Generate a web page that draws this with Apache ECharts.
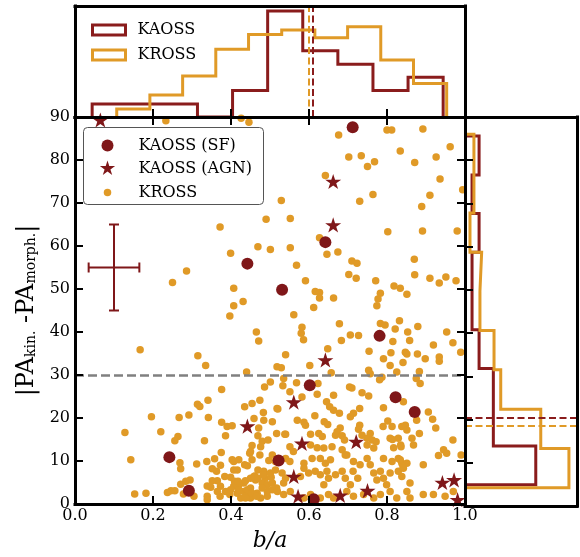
<!DOCTYPE html>
<html>
<head>
<meta charset="utf-8">
<script src="https://cdn.jsdelivr.net/npm/echarts@6/dist/echarts.min.js"></script>
<style>
  html, body { margin: 0; padding: 0; background: #fff; }
  #chart { width: 580px; height: 557px; }
</style>
</head>
<body>
<div id="chart"></div>
<script>
// ---------- data ----------
// KAOSS star-forming galaxies: [b/a, |PA_kin - PA_morph|]
const kaossSF = [
  [0.712, 87.6], [0.442, 55.9], [0.531, 49.8], [0.642, 60.9], [0.781, 39.1],
  [0.602, 27.6], [0.822, 24.8], [0.871, 21.4], [0.522, 10.1], [0.612, 1.1],
  [0.242, 10.9], [0.292, 3.1]
];
// KAOSS AGN hosts
const kaossAGN = [
  [0.065, 89.3], [0.662, 75.0], [0.662, 64.9], [0.642, 33.5], [0.561, 23.7],
  [0.442, 18.1], [0.582, 14.1], [0.721, 14.5], [0.561, 6.4], [0.572, 1.8],
  [0.680, 2.0], [0.750, 3.1], [0.942, 5.0], [0.972, 5.6], [0.981, 1.0]
];
// KROSS galaxies
const kross = [
  [0.233,89.1],[0.426,89.7],[0.446,88.8],
  [0.490,66.2],[0.372,64.4],[0.469,59.8],[0.501,59.2],[0.399,58.3],[0.286,54.2],[0.250,51.5],[0.407,50.2],[0.431,47.1],[0.407,46.1],
  [0.676,85.8],[0.800,87.0],[0.812,87.0],[0.892,87.2],[0.962,83.1],[0.702,80.7],[0.734,81.0],[0.768,79.6],[0.750,78.5],[0.834,82.1],
  [0.871,79.4],[0.926,80.7],[0.642,76.4],[0.936,75.6],[0.994,73.1],[0.529,70.6],[0.730,70.4],[0.764,72.0],[0.910,71.8],[0.889,69.2],
  [0.552,66.4],[0.627,61.9],[0.802,63.3],[0.891,63.5],[0.980,63.5],[0.552,59.6],[0.646,58.1],[0.674,58.6],[0.568,55.5],[0.710,56.5],
  [0.723,56.0],[0.870,56.9],[0.702,53.4],[0.721,52.5],[0.591,51.9],[0.771,51.9],[0.871,53.3],[0.910,52.5],[0.934,51.4],[0.951,52.8],
  [0.977,51.9],[0.818,50.7],[0.834,50.2],[0.851,48.8],[0.616,49.4],[0.627,49.2],[0.627,47.9],[0.663,47.9],[0.783,49.0],[0.777,47.7],
  [0.774,46.1],[0.612,45.7],
  [0.397,43.7],[0.465,40.0],[0.471,37.9],[0.167,35.9],[0.315,34.5],[0.335,32.2],[0.440,30.7],[0.486,27.2],[0.376,26.6],[0.474,24.1],
  [0.341,24.1],[0.314,23.2],[0.320,22.7],[0.454,23.4],[0.435,22.6],[0.483,21.3],[0.196,20.3],[0.267,20.1],[0.292,20.7],[0.342,20.1],
  [0.459,19.9],[0.484,19.5],[0.376,19.0],[0.403,18.2],[0.390,18.0],[0.471,17.7],[0.128,16.6],[0.220,16.8],[0.264,15.7],[0.256,14.7],
  [0.386,15.9],[0.332,14.7],[0.480,14.6],[0.476,13.3],[0.495,14.9],[0.454,13.6],[0.375,12.0],[0.448,11.8],[0.474,11.4],[0.143,10.3],
  [0.358,10.5],[0.338,9.9],[0.269,9.6],[0.271,8.2],[0.312,9.3],[0.407,9.9],[0.373,9.0],[0.435,9.1],[0.442,8.9],[0.454,10.3],
  [0.497,10.1],[0.352,8.2],[0.363,7.6],[0.407,7.9],[0.416,7.9],[0.461,6.5],[0.484,7.6],[0.488,6.0],[0.384,6.4],[0.399,6.2],
  [0.365,5.4],[0.352,5.4],[0.339,4.2],[0.271,4.6],[0.284,5.3],[0.295,5.6],[0.246,3.1],[0.237,2.7],[0.256,3.1],[0.278,2.3],
  [0.305,1.8],[0.153,2.3],[0.182,2.5],[0.339,1.0],[0.372,1.8],[0.386,2.9],[0.397,2.2],[0.416,2.5],[0.425,1.4],[0.433,2.9],
  [0.442,2.2],[0.450,1.4],[0.467,2.5],[0.476,1.4],[0.493,2.9],[0.450,3.7],[0.433,4.9],[0.420,4.5],[0.407,4.1],[0.463,5.6],
  [0.450,6.0],[0.480,4.9],[0.493,4.5],[0.480,3.7],
  [0.551,26.1],[0.506,19.1],[0.520,22.1],[0.538,16.2],[0.450,12.2],[0.469,15.9],[0.420,10.3],[0.403,10.3],[0.469,7.9],[0.503,6.2],
  [0.483,6.8],[0.459,6.4],[0.469,6.0],[0.437,5.4],[0.409,5.3],[0.418,5.3],[0.506,4.9],[0.517,3.7],[0.373,4.1],[0.348,3.9],
  [0.365,2.9],[0.399,3.3],[0.420,3.3],[0.442,3.3],[0.339,1.8],[0.437,1.4],[0.454,2.5],[0.465,1.8],[0.493,1.8],
  [0.561,44.0],[0.678,41.9],[0.783,42.0],[0.795,41.6],[0.832,42.6],[0.879,41.3],[0.582,41.1],[0.580,39.7],[0.586,38.2],[0.706,39.3],
  [0.727,39.2],[0.683,38.0],[0.821,40.7],[0.853,40.0],[0.815,37.8],[0.858,38.0],[0.953,40.0],[0.969,37.5],[0.919,37.0],[0.989,35.3],
  [0.540,34.7],[0.648,36.1],[0.754,35.5],[0.810,35.2],[0.847,35.3],[0.851,34.9],[0.878,34.9],[0.934,34.2],[0.934,33.2],[0.898,33.8],
  [0.791,33.8],[0.841,32.9],[0.808,32.2],[0.518,31.9],[0.529,31.7],[0.602,32.2],[0.657,30.5],[0.753,31.1],[0.757,30.3],[0.787,29.5],
  [0.825,30.7],[0.883,30.8],[0.875,29.2],[0.885,28.0],[0.535,29.2],[0.533,27.5],[0.568,28.2],[0.501,28.4],[0.623,28.0],[0.704,27.2],
  [0.710,27.0],[0.781,28.9],[0.736,25.9],[0.753,25.1],[0.621,25.5],[0.582,24.9],[0.645,23.8],[0.653,22.6],[0.663,21.8],[0.678,21.1],
  [0.730,22.2],[0.706,20.3],[0.714,21.1],[0.791,22.4],[0.842,23.8],[0.906,21.4],[0.917,19.7],[0.876,19.5],[0.518,22.2],[0.615,20.5],
  [0.570,19.5],[0.587,19.0],[0.591,18.3],[0.639,19.1],[0.648,18.5],[0.680,17.7],[0.672,16.8],[0.730,18.3],[0.727,17.4],[0.736,16.0],
  [0.790,18.0],[0.802,19.3],[0.813,18.0],[0.838,18.0],[0.847,18.3],[0.851,17.2],[0.969,14.9],[0.517,16.4],[0.540,16.2],[0.604,16.2],
  [0.625,16.4],[0.634,15.7],[0.668,16.0],[0.685,15.9],[0.691,14.9],[0.757,16.4],[0.749,15.3],[0.762,14.9],[0.772,14.5],[0.808,15.3],
  [0.829,15.3],[0.835,13.7],[0.864,15.3],[0.868,13.7],[0.551,13.3],[0.560,12.2],[0.604,13.7],[0.621,13.1],[0.638,13.0],[0.659,13.3],
  [0.685,12.6],[0.693,11.4],[0.749,13.7],[0.766,13.0],[0.945,12.6],[0.953,11.8],[0.990,11.4],[0.514,9.9],[0.506,11.4],[0.540,10.6],
  [0.551,9.9],[0.587,9.5],[0.608,10.6],[0.629,10.6],[0.642,9.5],[0.655,10.3],[0.697,11.4],[0.714,9.9],[0.731,9.1],[0.749,10.6],
  [0.757,9.1],[0.791,10.6],[0.813,9.9],[0.829,10.6],[0.838,9.5],[0.842,8.3],[0.851,9.5],[0.893,9.1],[0.501,7.2],[0.514,7.9],
  [0.531,7.2],[0.540,6.0],[0.535,4.9],[0.587,8.3],[0.599,7.2],[0.578,6.4],[0.616,7.6],[0.629,6.8],[0.646,7.6],[0.650,6.0],
  [0.638,4.5],[0.668,6.8],[0.685,7.6],[0.693,6.0],[0.713,7.6],[0.725,6.0],[0.706,4.5],[0.766,7.2],[0.783,7.6],[0.774,5.6],
  [0.791,6.0],[0.799,4.5],[0.808,7.2],[0.829,7.6],[0.838,6.4],[0.859,4.9],[0.970,2.9],[0.893,2.2],[0.919,2.2],[0.949,1.8],
  [0.506,3.3],[0.519,2.9],[0.535,2.2],[0.552,2.9],[0.587,1.4],[0.604,2.2],[0.629,1.4],[0.650,2.2],[0.663,1.4],[0.697,2.9],
  [0.714,1.8],[0.740,2.2],[0.766,1.4],[0.783,2.2],[0.808,2.9],[0.825,1.4],[0.851,2.9],[0.859,1.4],
  [0.663,25.3],[0.925,17.7],[0.883,16.4],[0.814,15.0],[0.817,13.1],[0.836,13.3],[0.932,11.3],[0.834,10.3],[0.841,8.7]
];

// typical uncertainty shown as a cross
const errCentre = [0.10, 55];
const errHalf = [0.065, 10];

// b/a histograms (normalised)
const kaossBaEdges = [0.044, 0.134, 0.224, 0.314, 0.404, 0.494, 0.584, 0.674, 0.764, 0.854, 0.944];
const kaossBaHeights = [0.41, 0.41, 0.41, 0, 0.83, 3.31, 2.07, 1.65, 0.83, 1.24];
const krossBaEdges = [0.107, 0.192, 0.276, 0.361, 0.445, 0.530, 0.615, 0.699, 0.784, 0.868, 0.953];
const krossBaHeights = [0.25, 0.69, 1.28, 2.12, 2.58, 2.72, 2.48, 2.82, 1.78, 1.05];
const kaossBaMedian = 0.611;
const krossBaMedian = 0.598;

// |dPA| histograms (normalised)
const kaossPaEdges = [4.9, 13.9, 22.8, 31.8, 40.8, 49.7, 58.7, 67.7, 76.6, 85.6];
const kaossPaHeights = [0.0412, 0.0165, 0.0165, 0.0082, 0.0041, 0.0041, 0.0082, 0.0041, 0.0082];
const krossPaEdges = [4.2, 13.3, 22.4, 31.5, 40.6, 49.7, 58.7, 67.8, 76.9, 86.0];
const krossPaHeights = [0.0605, 0.0441, 0.0208, 0.0169, 0.0087, 0.0097, 0.0029, 0.0052, 0.0052];
const kaossPaMedian = 20.5;
const krossPaMedian = 18.5;

const misalignCut = 30;

const xTicks = [0, 0.2, 0.4, 0.6, 0.8, 1.0];
const yTicks = [0, 10, 20, 30, 40, 50, 60, 70, 80, 90];

// ---------- styling ----------
const RED = '#7f1719';
const RED_LINE = '#8a1c1c';
const ORANGE = '#e09a27';
const FONT = 'DejaVu Serif';
const STAR = 'path://M0,-1L0.2245,-0.309L0.9511,-0.309L0.3633,0.118L0.5878,0.809L0,0.382L-0.5878,0.809L-0.3633,0.118L-0.9511,-0.309L-0.2245,-0.309Z';

// outline of a step histogram along x
function stepAlongX(edges, h) {
  const pts = [[edges[0], 0]];
  for (let i = 0; i < h.length; i++) {
    pts.push([edges[i], h[i]], [edges[i + 1], h[i]]);
  }
  pts.push([edges[edges.length - 1], 0]);
  return pts;
}
// outline of a step histogram along y (horizontal bars)
function stepAlongY(edges, h) {
  const pts = [[0, edges[0]]];
  for (let i = 0; i < h.length; i++) {
    pts.push([h[i], edges[i]], [h[i], edges[i + 1]]);
  }
  pts.push([0, edges[edges.length - 1]]);
  return pts;
}

const spine = { show: true, onZero: false, lineStyle: { color: '#000', width: 3, cap: 'square' } };
const inTicks = { show: true, inside: true, length: 8, lineStyle: { color: '#000', width: 2 } };
function frameAxis(extra) {
  return Object.assign({
    type: 'value', axisLine: spine, axisTick: { show: false }, axisLabel: { show: false },
    splitLine: { show: false }, z: 6
  }, extra);
}

const chart = echarts.init(document.getElementById('chart'), null, { renderer: 'canvas' });

const xMin = xTicks[0], xMax = xTicks[xTicks.length - 1], xStep = xTicks[1] - xTicks[0];
const yMin = yTicks[0], yMax = yTicks[yTicks.length - 1], yStep = yTicks[1] - yTicks[0];

const option = {
  animation: false,
  backgroundColor: '#fff',
  textStyle: { fontFamily: FONT },
  grid: [
    { left: 75, top: 117, width: 390, height: 389 },   // scatter
    { left: 75, top: 6, width: 390, height: 111 },     // b/a histogram
    { left: 465, top: 117, width: 112, height: 389 }   // |dPA| histogram
  ],
  xAxis: [
    frameAxis({
      gridIndex: 0, position: 'bottom', min: xMin, max: xMax, interval: xStep,
      axisTick: inTicks,
      axisLabel: { show: true, margin: 4, color: '#000', fontFamily: FONT, fontSize: 16,
        formatter: v => v.toFixed(1) },
      name: 'b/a', nameLocation: 'middle', nameGap: 26,
      nameTextStyle: { fontFamily: FONT, fontStyle: 'italic', fontSize: 22, color: '#000' }
    }),
    frameAxis({ gridIndex: 0, position: 'top', min: xMin, max: xMax, interval: xStep, axisTick: inTicks }),
    frameAxis({ gridIndex: 1, position: 'bottom', min: xMin, max: xMax, interval: xStep, axisTick: inTicks }),
    frameAxis({ gridIndex: 1, position: 'top', min: xMin, max: xMax }),
    frameAxis({ gridIndex: 2, position: 'bottom', min: 0, max: 0.0652 }),
    frameAxis({ gridIndex: 2, position: 'top', min: 0, max: 0.0652 })
  ],
  yAxis: [
    frameAxis({
      gridIndex: 0, position: 'left', min: yMin, max: yMax, interval: yStep,
      axisTick: inTicks,
      axisLabel: { show: true, margin: 5, color: '#000', fontFamily: FONT, fontSize: 16 },
      name: '{m||PA}{s|kin.}{m| -PA}{s|morph.}{m||}',
      nameLocation: 'middle', nameRotate: 90, nameGap: 36,
      nameTextStyle: {
        color: '#000',
        rich: {
          m: { fontFamily: FONT, fontSize: 24, lineHeight: 26, verticalAlign: 'bottom', color: '#000' },
          s: { fontFamily: FONT, fontSize: 14, lineHeight: 11, verticalAlign: 'bottom', color: '#000' }
        }
      }
    }),
    frameAxis({ gridIndex: 0, position: 'right', min: yMin, max: yMax, interval: yStep, axisTick: inTicks }),
    frameAxis({ gridIndex: 1, position: 'left', min: 0, max: 3.47 }),
    frameAxis({ gridIndex: 1, position: 'right', min: 0, max: 3.47 }),
    frameAxis({ gridIndex: 2, position: 'left', min: yMin, max: yMax, interval: yStep, axisTick: inTicks }),
    frameAxis({ gridIndex: 2, position: 'right', min: yMin, max: yMax })
  ],
  legend: [{
    left: 86, top: 17, orient: 'vertical', itemWidth: 33, itemHeight: 10, itemGap: 9,
    selectedMode: false,
    textStyle: { fontFamily: FONT, fontSize: 16, color: '#000', padding: [0, 0, 0, 7] },
    data: [
      { name: 'KAOSS', icon: 'rect', itemStyle: { color: 'rgba(0,0,0,0)', borderColor: RED_LINE, borderWidth: 3 } },
      { name: 'KROSS', icon: 'rect', itemStyle: { color: 'rgba(0,0,0,0)', borderColor: ORANGE, borderWidth: 3 } }
    ]
  }],
  series: [
    // b/a histograms
    {
      name: 'KAOSS', type: 'line', xAxisIndex: 2, yAxisIndex: 2,
      data: stepAlongX(kaossBaEdges, kaossBaHeights), showSymbol: false, clip: false,
      lineStyle: { color: RED_LINE, width: 3, join: 'miter' }, itemStyle: { color: RED_LINE },
      markLine: { silent: true, symbol: ['none', 'none'], label: { show: false },
        lineStyle: { color: RED_LINE, width: 2, type: [7, 3.5] }, data: [{ xAxis: kaossBaMedian }] }
    },
    {
      name: 'KROSS', type: 'line', xAxisIndex: 2, yAxisIndex: 2,
      data: stepAlongX(krossBaEdges, krossBaHeights), showSymbol: false, clip: false,
      lineStyle: { color: ORANGE, width: 3, join: 'miter' }, itemStyle: { color: ORANGE },
      markLine: { silent: true, symbol: ['none', 'none'], label: { show: false },
        lineStyle: { color: ORANGE, width: 2, type: [7, 3.5] }, data: [{ xAxis: krossBaMedian }] }
    },
    // |dPA| histograms
    {
      name: 'KAOSS', type: 'line', xAxisIndex: 4, yAxisIndex: 4,
      data: stepAlongY(kaossPaEdges, kaossPaHeights), showSymbol: false, clip: false,
      lineStyle: { color: RED_LINE, width: 3, join: 'miter' }, itemStyle: { color: RED_LINE },
      markLine: { silent: true, symbol: ['none', 'none'], label: { show: false },
        lineStyle: { color: RED_LINE, width: 2, type: [7, 3.5] }, data: [{ yAxis: kaossPaMedian }] }
    },
    {
      name: 'KROSS', type: 'line', xAxisIndex: 4, yAxisIndex: 4,
      data: stepAlongY(krossPaEdges, krossPaHeights), showSymbol: false, clip: false,
      lineStyle: { color: ORANGE, width: 3, join: 'miter' }, itemStyle: { color: ORANGE },
      markLine: { silent: true, symbol: ['none', 'none'], label: { show: false },
        lineStyle: { color: ORANGE, width: 2, type: [7, 3.5] }, data: [{ yAxis: krossPaMedian }] }
    },
    // scatter
    {
      name: 'KROSS', type: 'scatter', xAxisIndex: 0, yAxisIndex: 0,
      data: kross, symbol: 'circle', symbolSize: 7.5, itemStyle: { color: ORANGE, opacity: 1 },
      markLine: { silent: true, symbol: ['none', 'none'], label: { show: false },
        lineStyle: { color: '#808080', width: 2.5, type: [9, 4] }, data: [{ yAxis: misalignCut }] }
    },
    {
      name: 'KAOSS (SF)', type: 'scatter', xAxisIndex: 0, yAxisIndex: 0,
      data: kaossSF, symbol: 'circle', symbolSize: 12, itemStyle: { color: RED, opacity: 1 }
    },
    {
      name: 'KAOSS (AGN)', type: 'scatter', xAxisIndex: 0, yAxisIndex: 0,
      data: kaossAGN, symbol: STAR, symbolSize: 16, symbolKeepAspect: true,
      itemStyle: { color: RED, opacity: 1 }
    },
    {
      name: 'error', type: 'custom', xAxisIndex: 0, yAxisIndex: 0, silent: true,
      data: [[errCentre[0], errCentre[1], errHalf[0], errHalf[1]]],
      renderItem: function (params, api) {
        const x = api.value(0), y = api.value(1), ex = api.value(2), ey = api.value(3);
        const l = api.coord([x - ex, y]), r = api.coord([x + ex, y]);
        const t = api.coord([x, y + ey]), b = api.coord([x, y - ey]);
        const cap = 5;
        const st = { stroke: RED, lineWidth: 2, fill: null };
        const seg = (x1, y1, x2, y2) => ({ type: 'line', shape: { x1, y1, x2, y2 }, style: st });
        return {
          type: 'group',
          children: [
            seg(l[0], l[1], r[0], r[1]),
            seg(t[0], t[1], b[0], b[1]),
            seg(l[0], l[1] - cap, l[0], l[1] + cap),
            seg(r[0], r[1] - cap, r[0], r[1] + cap),
            seg(t[0] - cap, t[1], t[0] + cap, t[1]),
            seg(b[0] - cap, b[1], b[0] + cap, b[1])
          ]
        };
      }
    }
  ],
  graphic: []
};

// marker legend inside the scatter panel
function starPoints(cx, cy, R) {
  const pts = [];
  for (let k = 0; k < 10; k++) {
    const rr = k % 2 === 0 ? R : R * 0.382;
    const a = -Math.PI / 2 + k * Math.PI / 5;
    pts.push([cx + rr * Math.cos(a), cy + rr * Math.sin(a)]);
  }
  return pts;
}
const lg = { left: 83, top: 127 };
option.graphic.push({
  type: 'group', left: lg.left, top: lg.top, z: 20,
  children: [
    { type: 'rect', shape: { x: 0, y: 0, width: 180, height: 77, r: 4 },
      style: { fill: '#fff', stroke: '#555', lineWidth: 1 } },
    { type: 'circle', shape: { cx: 24, cy: 18, r: 6 }, style: { fill: RED } },
    { type: 'polygon', shape: { points: starPoints(24, 41, 8) }, style: { fill: RED } },
    { type: 'circle', shape: { cx: 24, cy: 65, r: 3.75 }, style: { fill: ORANGE } },
    { type: 'text', x: 55, y: 18, style: { text: 'KAOSS (SF)', font: '16px "DejaVu Serif"', fill: '#000', verticalAlign: 'middle' } },
    { type: 'text', x: 55, y: 41, style: { text: 'KAOSS (AGN)', font: '16px "DejaVu Serif"', fill: '#000', verticalAlign: 'middle' } },
    { type: 'text', x: 55, y: 65, style: { text: 'KROSS', font: '16px "DejaVu Serif"', fill: '#000', verticalAlign: 'middle' } }
  ]
});

chart.setOption(option);
</script>
</body>
</html>
